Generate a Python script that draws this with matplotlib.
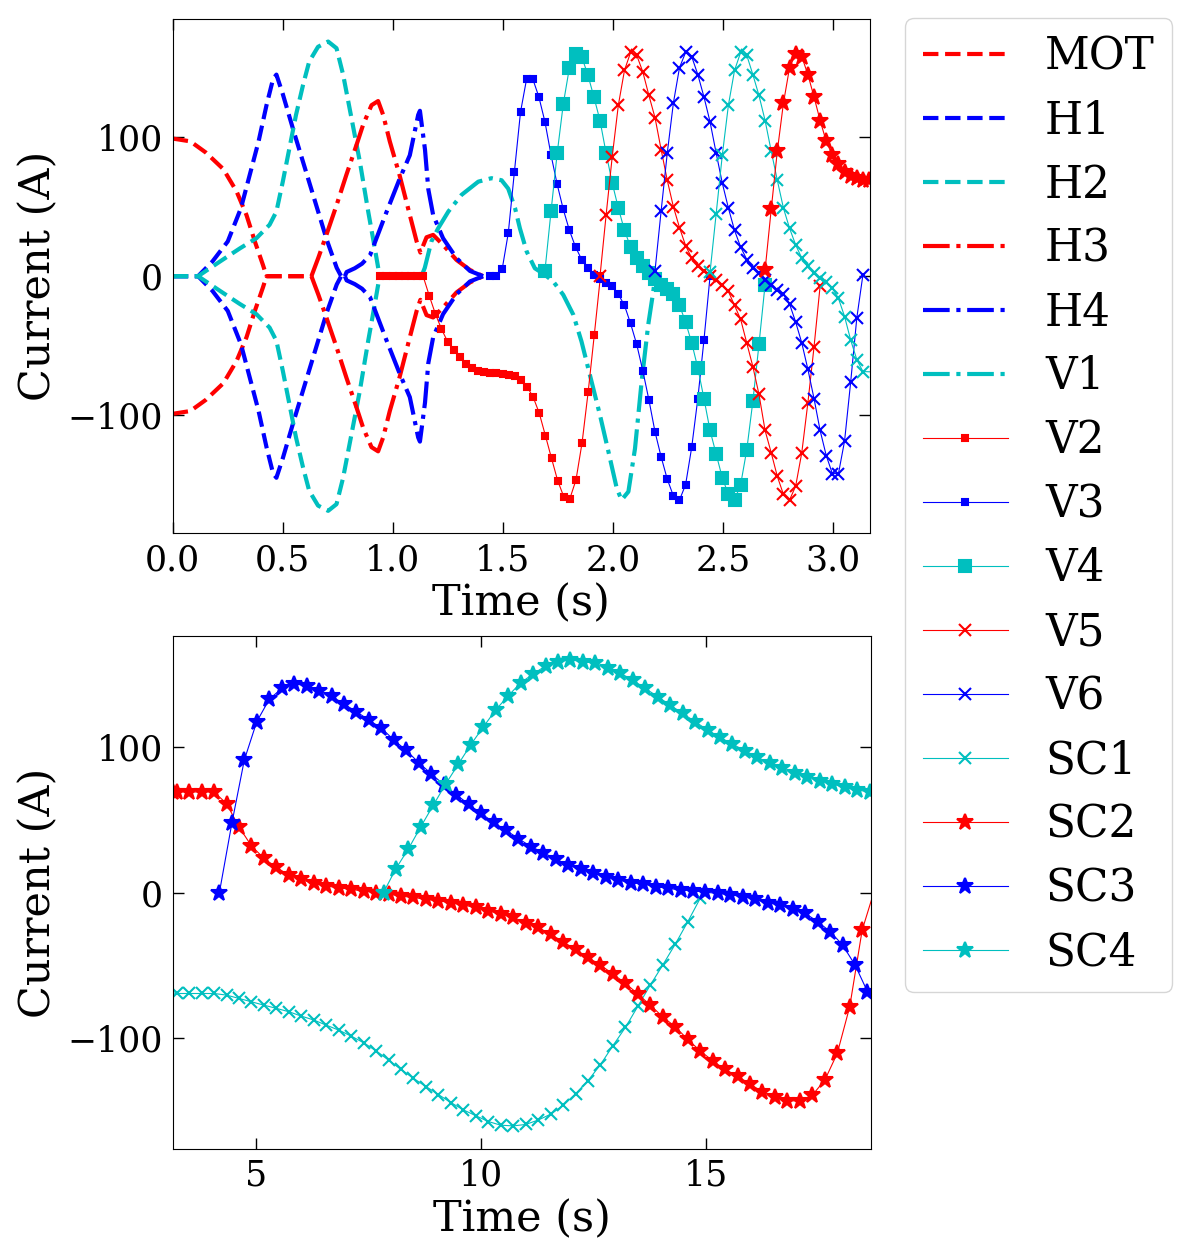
import matplotlib
matplotlib.use('Agg')
import matplotlib.pyplot as plt
import numpy as np

plt.rcParams['font.family'] = 'serif'
plt.rcParams['font.serif'] = ['DejaVu Serif']

# sample spacing of the marker curves (fast part up to ~3.16 s, slow part after)
DT_FAST = 1 / 36
DT_SLOW = 0.2768

# smooth coil currents, upper branch (lower branch is the mirror image)
mot_t = [0.0, 0.08, 0.15, 0.23, 0.29, 0.335, 0.373, 0.41, 0.426, 0.63]
mot_i = [99, 97, 89, 77, 61, 44, 25, 8, 0, 0]

h1_t = [0.0, 0.115, 0.18, 0.25, 0.31, 0.35, 0.39, 0.426, 0.456, 0.471, 0.50,
        0.55, 0.60, 0.65, 0.70, 0.745, 0.765, 0.775]
h1_i = [0, 0, 10.5, 25, 49, 73, 97, 123, 142, 145, 131, 104, 78, 52, 26, 6, 0, -3]

h2_t = [0.0, 0.115, 0.214, 0.305, 0.38, 0.44, 0.471, 0.50, 0.53, 0.56, 0.592,
        0.62, 0.66, 0.706, 0.744, 0.774, 0.812, 0.85, 0.888, 0.918, 0.94]
h2_i = [0, 0, 10.5, 20, 27.3, 37, 46.5, 68, 92, 116, 137.6, 154.4, 165, 168.8,
        164, 145, 113.7, 82.4, 46.5, 20, 0]

h3_t = [0.63, 0.662, 0.698, 0.744, 0.789, 0.835, 0.865, 0.903, 0.933, 0.956,
        0.986, 1.03, 1.077, 1.108, 1.125, 1.153, 1.183, 1.228, 1.289, 1.35, 1.41]
h3_i = [0, 13.5, 29.7, 51, 73, 94.5, 109, 123, 126, 116, 97, 73, 44, 25, 17,
        28, 29.7, 22.5, 11.7, 4.5, 0]

h4_t = [0.782, 0.79, 0.827, 0.86, 0.896, 0.972, 1.032, 1.077, 1.115, 1.123,
        1.146, 1.161, 1.183, 1.228, 1.289, 1.35, 1.41]
h4_i = [0, 3, 5.7, 9, 15, 46.5, 70.5, 87, 116, 119, 91, 62.6, 44, 27.3, 13,
        3.8, 0]

v1_t = [0.94, 1.13, 1.145, 1.175, 1.206, 1.252, 1.312, 1.388, 1.448, 1.494,
        1.524, 1.555, 1.577, 1.608, 1.645, 1.691, 1.729, 1.774, 1.82, 1.857,
        1.895, 1.941, 1.979, 2.017, 2.039, 2.07, 2.10, 2.13, 2.16, 2.183, 2.19]
v1_i = [0, 0, 6, 25, 34.5, 46.5, 58.5, 68, 70.5, 69, 63, 49, 34.5, 17.7, 5.7,
        1, -3.9, -13.4, -27.8, -47, -71, -100, -126, -152.5, -161, -155, -124,
        -76, -35, -11, -2]

# marker curves: start time + currents on a regular grid
v2_t0 = 0.943
v2_i = [0, 0, 0, 0, 0, 0, 0, 0, -14, -27, -38, -47, -53, -58, -63, -66, -68,
        -69, -69.5, -70, -70.5, -71, -72, -74.5, -79.5, -87, -98.6, -114.7,
        -131, -147, -158.6, -160, -146.6, -119.7, -83, -42, 0]

v3_t0 = 1.441
v3_i = [0, 0, 5, 31, 75, 118, 142, 142, 129, 111, 87, 66, 48, 33, 21, 12, 6,
        1, -2, -5, -7, -13, -21, -34, -49, -68, -89, -112, -130, -146, -158,
        -161, -150, -123, -88, -46, 0]

v4_t0 = 1.691
v4_i = [4, 47, 88.5, 124, 150, 160, 158, 145, 129, 112, 88.5, 67, 49, 33, 21,
        13, 7, 2, -2, -6, -9, -13, -21, -33, -48, -66, -88, -111, -128, -145,
        -157, -161, -150, -125, -90, -49, -6]

v5_t0 = 1.941
v5_i = [0, 44, 86, 123, 148, 161, 159, 147, 130, 114, 91, 69, 50, 35, 22, 13,
        7, 4, 0, -3, -6, -11, -21, -31, -48, -65, -85, -111, -127, -144, -157,
        -161, -151, -127, -91, -51, -7]

v6_t0 = 2.191
v6_i = [4, 47, 88.5, 124.5, 150, 161, 158, 145, 129, 111, 88.5, 67, 49, 33,
        21, 12, 6, 2, -3, -6, -10, -13, -20, -33, -48, -67, -88, -111, -129,
        -142, -142, -118.5, -76, -30, 1]

sc1_t0 = 2.441
sc1_i = [3, 45, 87, 123, 148, 161, 159, 145, 130, 112, 90, 69, 49, 34.5, 22.5,
         13, 7, 2, -1.4, -4, -8.6, -16, -29, -46, -60, -68.6]
sc1_slow_t0 = 3.237
sc1_slow_i = [-69.2, -69.2, -69.2, -69.2, -70.3, -72.6, -74.9, -77.2, -79.4,
              -81.7, -84.7, -87.4, -90.9, -94.3, -98.4, -103, -108.5, -114.9,
              -121.3, -127.4, -133, -138.5, -144, -149, -153, -157, -159.5,
              -160, -159, -156, -152, -146, -138, -129, -118, -105, -92.5, -78,
              -63.4, -49.7, -35.4, -20.1, -4]

sc2_t0 = 2.691
sc2_i = [4.5, 48, 90, 124.5, 150, 160, 158, 145, 129, 112, 97, 87, 80.6, 75.3,
         72.4, 70.5, 69.3, 69.3]
sc2_slow_t0 = 3.237
sc2_slow_i = [69, 69, 69, 69, 61, 45, 32, 23.5, 17.3, 12, 9, 6.3, 4.5, 3.3,
              2.2, 1, 0, -1, -2.5, -3.3, -4.7, -5.6, -7, -8.6, -10.2, -12.5,
              -14.7, -17, -20.7, -23.9, -28.5, -33.7, -39, -44.4, -49.7, -55.8,
              -62.2, -69.5, -77.2, -85.2, -92, -100.7, -108.5, -115.3, -121.3,
              -125.8, -131.3, -136.6, -140.5, -142.8, -142.8, -138.9, -128.6,
              -110.3, -78.3, -25.7, 2]

sc3_t0 = 4.185
sc3_i = [0, 47.5, 90.9, 117.2, 132.5, 140, 143, 142, 138.4, 134.8, 129.3, 124,
         118.3, 112.8, 104.6, 97.5, 89, 81.5, 74, 67.2, 60.6, 54.3, 48.2, 42.7,
         37, 31.5, 27.4, 22.8, 18.9, 16, 13.2, 10.9, 8.6, 6.8, 5.9, 4.1, 2.9,
         1.8, 1.3, 0.2, -0.5, -1.6, -2.7, -4.6, -6.9, -8.5, -11.4, -14.2, -19.9,
         -26.7, -35.9, -49.6, -67.9]

sc4_t0 = 7.83
sc4_i = [0, 16.5, 30, 45.3, 60, 74.6, 88, 101.4, 113.5, 125.2, 134.9, 143.8,
         149.9, 155.4, 158.4, 159.5, 158.4, 157.2, 153.8, 150.4, 145.8, 140,
         134.4, 128.6, 122.9, 117.2, 111.5, 106.5, 101.8, 97.3, 92.7, 88.6,
         85.2, 82.2, 79.5, 76.7, 74.4, 72.1, 70.3, 69.1]

TOP_XLIM = (0, 3.168)
BOTTOM_XLIM = (3.149, 18.65)


def grid(t0, values, dt):
    return t0 + dt * np.arange(len(values))


fig = plt.figure(figsize=(11.88, 12.6), dpi=100)
ax1 = fig.add_axes([0.1454, 0.5767, 0.5870, 0.4082])
ax2 = fig.add_axes([0.1454, 0.0879, 0.5875, 0.4074])

# smooth curves, top panel only
smooth = [
    ('MOT', mot_t, mot_i, 'r', '--', True),
    ('H1', h1_t, h1_i, 'b', '--', True),
    ('H2', h2_t, h2_i, 'c', '--', True),
    ('H3', h3_t, h3_i, 'r', '-.', True),
    ('H4', h4_t, h4_i, 'b', '-.', True),
    ('V1', v1_t, v1_i, 'c', '-.', False),
]
for label, t, cur, color, ls, mirrored in smooth:
    ax1.plot(t, cur, color=color, ls=ls, lw=3, label=label)
    if mirrored:
        ax1.plot(t, -np.array(cur), color=color, ls=ls, lw=3)

top_only = [
    ('V2', grid(v2_t0, v2_i, DT_FAST), v2_i, 'r', 's', 5),
    ('V3', grid(v3_t0, v3_i, DT_FAST), v3_i, 'b', 's', 5),
    ('V4', grid(v4_t0, v4_i, DT_FAST), v4_i, 'c', 's', 8),
    ('V5', grid(v5_t0, v5_i, DT_FAST), v5_i, 'r', 'x', 8),
    ('V6', grid(v6_t0, v6_i, DT_FAST), v6_i, 'b', 'x', 8),
]
for label, t, cur, color, mk, ms in top_only:
    ax1.plot(t, cur, color=color, marker=mk, ms=ms, mew=1.5, lw=0.8, label=label)

# (label, fast part, slow part, colour, marker, size)
both = [
    ('SC1', (sc1_t0, sc1_i), (sc1_slow_t0, sc1_slow_i), 'c', 'x', 8),
    ('SC2', (sc2_t0, sc2_i), (sc2_slow_t0, sc2_slow_i), 'r', '*', 12),
    ('SC3', None, (sc3_t0, sc3_i), 'b', '*', 12),
    ('SC4', None, (sc4_t0, sc4_i), 'c', '*', 12),
]
for label, fast, slow, color, mk, ms in both:
    t = grid(slow[0], slow[1], DT_SLOW)
    cur = list(slow[1])
    if fast is not None:
        t = np.concatenate([grid(fast[0], fast[1], DT_FAST), t])
        cur = list(fast[1]) + cur
    for ax, (lo, hi) in ((ax1, TOP_XLIM), (ax2, BOTTOM_XLIM)):
        # only mark the samples that fall inside this panel
        shown = np.flatnonzero((t >= lo) & (t <= hi)).tolist()
        ax.plot(t, cur, color=color, marker=mk, ms=ms, mew=1.5, lw=0.8,
                markevery=shown, label=label if ax is ax1 else None)

ax1.set_xlim(*TOP_XLIM)
ax1.set_ylim(-185, 185)
ax2.set_xlim(*BOTTOM_XLIM)
ax2.set_ylim(-176, 176)
ax1.set_xticks([0, 0.5, 1.0, 1.5, 2.0, 2.5, 3.0])
ax2.set_xticks([5, 10, 15])
for ax in (ax1, ax2):
    ax.set_yticks([-100, 0, 100])
    ax.tick_params(direction='in', top=True, right=True, length=8, width=1,
                   labelsize=25, pad=7)
    ax.set_xlabel('Time (s)', fontsize=31, labelpad=4)
    ax.set_ylabel('Current (A)', fontsize=31, labelpad=6)

handles, labels = ax1.get_legend_handles_labels()
fig.legend(handles, labels, loc='upper left', bbox_to_anchor=(0.7618, 0.9857),
           bbox_transform=fig.transFigure, borderaxespad=0, fontsize=31.5,
           handlelength=1.95, handletextpad=0.85, labelspacing=0.475)

fig.savefig('out.png', dpi=100)
